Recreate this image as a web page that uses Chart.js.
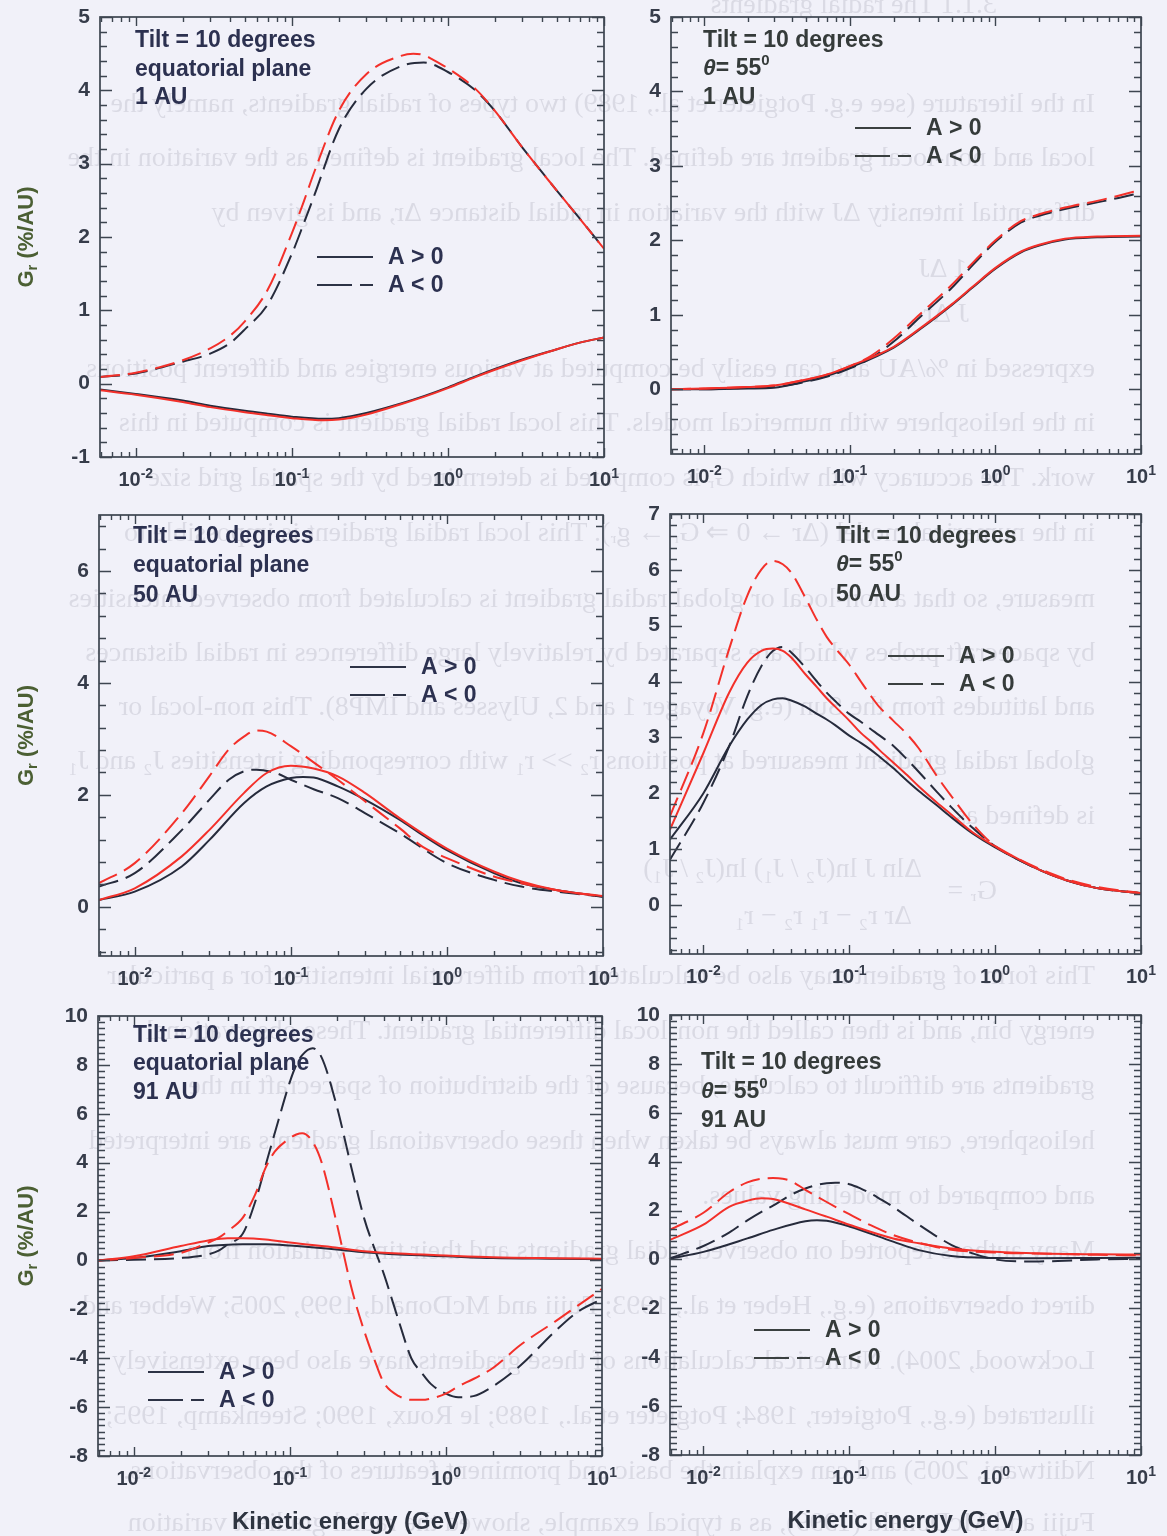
<!DOCTYPE html>
<html>
<head>
<meta charset="utf-8">
<title>Radial gradients vs kinetic energy</title>
<script src="https://cdn.jsdelivr.net/npm/chart.js@4.4.1/dist/chart.umd.min.js"></script>
<style>
  html, body { margin: 0; padding: 0; }
  body { width: 1167px; height: 1536px; position: relative; overflow: hidden; background: #f1f1f9; }
  #ghost { position: absolute; left: 0; top: 0; width: 1167px; height: 1536px; overflow: hidden;
           transform: scaleX(-1); color: rgba(60, 60, 85, 0.12); filter: blur(0.6px);
           font: 28px "Liberation Serif", "Times New Roman", serif; white-space: nowrap; }
  #ghost div { position: absolute; line-height: 34px; }
  canvas { position: absolute; }
</style>
</head>
<body>
<div id="ghost"></div>
<canvas id="p1"></canvas>
<canvas id="p2"></canvas>
<canvas id="p3"></canvas>
<canvas id="p4"></canvas>
<canvas id="p5"></canvas>
<canvas id="p6"></canvas>
<script>
// kinetic energy grid (GeV); null = no reading at that energy
const energy = [0.0059, 0.01, 0.015, 0.02, 0.025, 0.03, 0.035, 0.04, 0.05,
                0.06, 0.07, 0.08, 0.1, 0.11, 0.12, 0.14, 0.16, 0.2,
                0.25, 0.3, 0.35, 0.4, 0.5, 0.6, 0.7, 0.8, 1,
                1.2, 1.5, 2, 3, 5, 7, 10];
const _ = null;

// equatorial plane, 1 AU
const eq1Pos = [-0.08, -0.14, _, -0.23, _, -0.3, _, _, -0.37,
                _, -0.41, _, -0.45, _, _, _, -0.48, -0.47,
                _, -0.4, _, _, -0.27, _, -0.17, _, -0.05,
                _, 0.1, 0.2, 0.33, 0.47, 0.56, 0.63];
const eq1PosAlt = [-0.09, -0.15, _, -0.25, _, -0.32, _, _, -0.39,
                   _, -0.43, _, -0.47, _, _, _, -0.5, -0.49,
                   _, -0.42, _, _, -0.28, _, -0.18, _, -0.06,
                   _, 0.09, 0.19, 0.32, 0.47, 0.56, 0.63];
const eq1Neg = [0.09, 0.14, _, 0.3, _, 0.41, _, 0.55, 0.74,
                _, 1.08, _, 1.77, _, 2.2, 2.58, _, 3.47,
                _, 4.02, _, _, 4.33, _, 4.38, _, 4.25,
                _, 4.0, 3.72, 3.22, 2.63, 2.25, 1.84];
const eq1NegAlt = [0.09, 0.15, _, 0.32, _, 0.48, _, 0.65, 0.85,
                   _, 1.28, _, 2.05, _, 2.5, 2.9, _, 3.72,
                   _, 4.22, _, _, 4.47, 4.5, 4.48, 4.42, 4.3,
                   _, 4.02, 3.72, 3.22, 2.63, 2.25, 1.84];

// theta = 55 deg, 1 AU
const th1Pos = [0, 0, _, 0.01, _, 0.02, _, _, 0.11,
                _, 0.18, _, 0.29, _, _, _, _, 0.56,
                _, 0.8, _, _, 1.13, _, 1.37, _, 1.62,
                _, 1.84, 1.93, 2.01, 2.04, _, 2.05];
const th1PosAlt = [0, 0.01, _, 0.03, _, 0.05, _, _, 0.13,
                   _, 0.2, _, 0.31, _, _, _, _, 0.57,
                   _, 0.81, _, _, 1.14, _, 1.38, _, 1.63,
                   _, 1.85, 1.94, 2.02, 2.05, _, 2.06];
const th1Neg = [0, 0, _, 0.02, _, 0.03, _, _, 0.1,
                _, 0.17, _, 0.28, _, _, 0.42, _, 0.64,
                _, 0.96, _, _, 1.36, _, 1.67, _, 1.98,
                _, 2.24, 2.33, 2.42, 2.51, 2.57, 2.64];
const th1NegAlt = [0, 0.01, _, 0.03, _, 0.05, _, _, 0.13,
                   _, 0.2, _, 0.31, _, _, 0.45, _, 0.68,
                   _, 1.0, _, _, 1.4, _, 1.7, _, 2.0,
                   _, 2.26, 2.35, 2.44, 2.53, 2.6, 2.68];

// equatorial plane, 50 AU
const eq50Pos = [0.12, 0.27, _, 0.72, _, 1.19, _, _, 1.85,
                 _, 2.15, _, 2.3, _, 2.32, 2.31, _, 2.15,
                 _, 1.91, _, _, 1.55, _, 1.28, _, 1.01,
                 _, _, 0.6, 0.42, 0.3, _, 0.18];
const eq50PosAlt = [0.12, 0.33, _, 0.9, _, 1.37, _, _, 2.03,
                    _, 2.39, _, 2.52, _, _, 2.47, _, 2.33,
                    _, 2.03, _, _, 1.58, _, _, _, 1.04,
                    _, _, 0.63, 0.45, 0.3, _, 0.19];
const eq50Neg = [0.36, 0.6, _, 1.37, _, 1.91, _, 2.27, 2.42,
                 2.45, _, 2.39, 2.27, _, _, 2.1, _, 1.94,
                 _, 1.67, _, _, 1.31, _, _, _, 0.78,
                 _, _, 0.48, 0.36, 0.27, _, 0.18];
const eq50NegAlt = [0.42, 0.78, _, 1.67, _, 2.33, _, 2.81, 3.04,
                    3.15, 3.13, _, 2.87, _, _, 2.58, _, 2.27,
                    _, 1.88, _, _, 1.4, _, 1.07, _, 0.87,
                    _, _, 0.54, 0.42, 0.3, _, 0.18];

// theta = 55 deg, 50 AU
const th50Pos = [1.17, 2.0, 2.84, 3.32, 3.58, 3.68, 3.7, 3.66, 3.55,
                 3.42, 3.32, 3.22, 3.03, _, 2.9, 2.78, 2.66, 2.45,
                 2.22, 2.04, _, 1.78, 1.57, _, 1.28, _, 1.03,
                 _, _, 0.63, 0.45, 0.3, _, 0.21];
const th50PosAlt = [1.35, 2.72, 3.8, 4.34, 4.55, 4.59, 4.55, 4.43, 4.13,
                    3.9, 3.7, 3.55, 3.3, _, 3.08, 2.93, 2.78, 2.55,
                    2.32, 2.12, _, 1.83, 1.62, _, 1.3, _, 1.05,
                    _, _, 0.63, 0.45, 0.3, _, 0.21];
const th50Neg = [0.81, 1.83, 2.84, 3.74, 4.28, 4.55, 4.62, 4.52, 4.25,
                 4.0, 3.8, 3.65, 3.42, _, 3.28, 3.15, 3.04, 2.85,
                 2.6, 2.38, _, 2.02, 1.75, _, 1.38, _, 1.05,
                 _, _, 0.63, 0.45, 0.3, _, 0.21];
const th50NegAlt = [1.59, 3.08, 4.58, 5.54, 6.01, 6.16, 6.1, 5.95, 5.5,
                    5.1, 4.8, 4.6, 4.3, _, 4.0, 3.75, 3.55, 3.3,
                    3.05, 2.8, _, 2.3, 1.95, _, 1.45, _, 1.05,
                    _, 0.8, 0.65, 0.47, 0.32, _, 0.21];

// equatorial plane, 91 AU
const eq91Pos = [0, 0.1, _, 0.38, _, 0.59, _, 0.64, 0.66,
                 _, 0.66, _, 0.61, _, _, _, _, 0.45,
                 _, 0.33, _, _, 0.24, _, _, _, 0.17,
                 _, _, 0.1, _, 0.07, _, 0.05];
const eq91PosAlt = [0, 0.17, _, 0.59, _, 0.82, _, 0.91, 0.91,
                    _, 0.86, _, 0.73, _, _, _, _, 0.52,
                    _, 0.38, _, _, 0.28, _, _, _, 0.2,
                    _, _, 0.13, _, 0.09, _, 0.07];
const eq91Neg = [0, 0.03, _, 0.1, _, 0.25, 0.4, 0.66, 1.1,
                 2.4, 3.9, 5.2, 7.3, 8.0, 8.4, 8.68, 8.3, 6.3,
                 3.7, 1.7, 0.45, -0.55, -2.5, -4.0, -4.6, -5.05, -5.45,
                 -5.6, -5.55, -5.15, -4.3, -2.9, -2.1, -1.58];
const eq91NegAlt = [0, 0.1, _, 0.31, _, 0.73, 0.93, 1.2, 1.75,
                    2.7, 3.8, 4.45, 5.0, 5.15, 5.2, 4.85, 4.0, 1.5,
                    -1.2, -2.9, -4.1, -5.0, -5.55, -5.7, -5.7, -5.65, -5.45,
                    -5.15, -4.85, -4.4, -3.46, -2.5, -1.85, -1.16];

// theta = 55 deg, 91 AU
const th91Pos = [0.03, 0.31, _, 0.86, _, 1.21, _, _, 1.56,
                 1.6, 1.58, _, 1.35, _, _, _, _, 0.73,
                 _, 0.38, _, _, 0.14, _, _, _, 0.06,
                 _, _, 0.05, _, 0.06, _, 0.07];
const th91PosAlt = [0.8, 1.42, 2.15, 2.4, 2.5, 2.47, _, _, 2.05,
                    _, 1.75, _, 1.42, _, _, _, _, 0.86,
                    _, 0.66, _, _, 0.45, _, _, _, 0.31,
                    _, _, 0.24, _, 0.21, _, 0.2];
const th91Neg = [0.05, 0.55, 1.1, 1.6, 1.95, 2.2, _, 2.65, 2.9,
                 3.05, 3.12, 3.14, 3.08, _, 2.9, 2.7, 2.5, 2.15,
                 _, 1.42, _, _, 0.6, _, 0.25, _, 0.0,
                 _, -0.08, -0.08, -0.05, 0.0, _, 0.03];
const th91NegAlt = [1.21, 1.91, 2.75, 3.15, 3.3, 3.33, 3.3, 3.2, 2.85,
                    _, 2.35, _, 1.85, _, _, 1.4, _, 1.0,
                    _, 0.68, _, _, 0.4, _, _, _, 0.28,
                    _, _, 0.24, _, 0.19, _, 0.17];

// axis ticks
const decades = [0.01, 0.1, 1, 10];
const decadeExp = ['-2', '-1', '0', '1'];
const yLabels1 = [-1, 0, 1, 2, 3, 4, 5];
const yLabels2 = [0, 1, 2, 3, 4, 5];
const yLabels3 = [0, 2, 4, 6];
const yLabels4 = [0, 1, 2, 3, 4, 5, 6, 7];
const yLabels91 = [-8, -6, -4, -2, 0, 2, 4, 6, 8, 10];

const SANS = '"Liberation Sans", Arial, Helvetica, sans-serif';
const AXIS = '#3d4550';
const TICK_TEXT = '#363c4a';
const DARK = '#262b3c';
const RED = '#f3302a';

function drawRun(ctx, parts, x, y) {
  let cx = x;
  for (const p of parts) {
    ctx.font = p.font;
    ctx.fillText(p.t, cx, y + (p.dy || 0));
    cx += ctx.measureText(p.t).width;
  }
}
function runWidth(ctx, parts) {
  let w = 0;
  for (const p of parts) { ctx.font = p.font; w += ctx.measureText(p.t).width; }
  return w;
}

// frame, inward ticks, labels, notes and legend for one panel
const panelDeco = {
  id: 'panelDeco',
  afterDraw(chart, args, o) {
    const { ctx, chartArea: a } = chart;
    const xs = chart.scales.x, ys = chart.scales.y;
    const ox = o.origin[0], oy = o.origin[1];
    ctx.save();

    ctx.strokeStyle = AXIS;
    ctx.lineWidth = 1.7;
    ctx.strokeRect(a.left, a.top, a.right - a.left, a.bottom - a.top);

    ctx.lineWidth = 1.4;
    ctx.beginPath();
    const k0 = Math.ceil(ys.min / o.yMinor - 1e-6);
    for (let k = k0; k * o.yMinor <= ys.max + 1e-6; k++) {
      const v = k * o.yMinor;
      const major = Math.abs(v / o.yMajor - Math.round(v / o.yMajor)) < 1e-6;
      const len = major ? 12 : 7;
      const py = Math.round(ys.getPixelForValue(v)) + 0.5;
      ctx.moveTo(a.left, py); ctx.lineTo(a.left + len, py);
      ctx.moveTo(a.right, py); ctx.lineTo(a.right - len, py);
    }
    for (let e = -3; e <= 1; e++) {
      for (let k = 1; k <= 9; k++) {
        const v = k * Math.pow(10, e);
        if (v < xs.min * 0.999 || v > xs.max * 1.001) continue;
        const len = k === 1 ? 9 : 5;
        const px = Math.round(xs.getPixelForValue(v)) + 0.5;
        ctx.moveTo(px, a.bottom); ctx.lineTo(px, a.bottom - len);
        ctx.moveTo(px, a.top); ctx.lineTo(px, a.top + len);
      }
    }
    ctx.stroke();

    // y tick labels
    ctx.fillStyle = TICK_TEXT;
    ctx.font = 'bold 21px ' + SANS;
    ctx.textAlign = 'right';
    ctx.textBaseline = 'middle';
    o.yLabels.forEach(v => ctx.fillText(String(v), a.left - 10, ys.getPixelForValue(v)));

    // x tick labels 10^n
    ctx.textAlign = 'left';
    ctx.textBaseline = 'alphabetic';
    decades.forEach((v, i) => {
      const parts = [
        { t: '10', font: 'bold 20px ' + SANS },
        { t: decadeExp[i], font: 'bold 14px ' + SANS, dy: -8 }
      ];
      const w = runWidth(ctx, parts);
      drawRun(ctx, parts, xs.getPixelForValue(v) - w / 2, a.bottom + 29);
    });

    // panel notes
    ctx.fillStyle = o.noteColor;
    const nf = 'bold 23px ' + SANS;
    o.notes.forEach((line, i) => {
      const px = o.noteX - ox, py = o.noteY[i] - oy + 8;
      if (line === 'theta') {
        drawRun(ctx, [
          { t: '\u03B8', font: 'italic bold 23px ' + SANS },
          { t: '= 55', font: nf },
          { t: '0', font: 'bold 15px ' + SANS, dy: -10 }
        ], px, py);
      } else {
        ctx.font = nf;
        ctx.fillText(line, px, py);
      }
    });

    // legend
    const lx = o.legend[0] - ox, ly1 = o.legend[1] - oy, ly2 = ly1 + 28;
    ctx.strokeStyle = o.legendLine;
    ctx.lineWidth = 2;
    ctx.beginPath();
    ctx.moveTo(lx, ly1); ctx.lineTo(lx + 56, ly1);
    ctx.moveTo(lx, ly2); ctx.lineTo(lx + 35, ly2);
    ctx.moveTo(lx + 43, ly2); ctx.lineTo(lx + 56, ly2);
    ctx.stroke();
    ctx.fillStyle = o.noteColor;
    ctx.font = 'bold 23px ' + SANS;
    ctx.textBaseline = 'middle';
    ctx.fillText('A > 0', lx + 71, ly1 + 1);
    ctx.fillText('A < 0', lx + 71, ly2 + 1);

    // axis titles
    if (o.yTitle) {
      ctx.save();
      ctx.translate(27, (a.top + a.bottom) / 2);
      ctx.rotate(-Math.PI / 2);
      ctx.fillStyle = '#4b5f33';
      ctx.textBaseline = 'middle';
      const parts = [
        { t: 'G', font: 'bold 22px ' + SANS },
        { t: 'r', font: 'bold 15px ' + SANS, dy: 6 },
        { t: ' (%/AU)', font: 'bold 22px ' + SANS }
      ];
      drawRun(ctx, parts, -runWidth(ctx, parts) / 2, 0);
      ctx.restore();
    }
    if (o.xTitle) {
      ctx.fillStyle = '#2e3440';
      ctx.font = 'bold 24px ' + SANS;
      ctx.textAlign = 'center';
      ctx.textBaseline = 'middle';
      ctx.fillText('Kinetic energy (GeV)', (a.left + a.right) / 2, a.bottom + 66);
    }
    ctx.restore();
  }
};

const panels = [
  { id: 'p1', canvas: [0, 0, 634, 502], box: [100, 17, 604, 457], y: [-1, 5],
    yMajor: 1, yMinor: 0.2, yLabels: yLabels1,
    curves: [eq1PosAlt, eq1NegAlt, eq1Pos, eq1Neg],
    notes: ['Tilt = 10 degrees', 'equatorial plane', '1 AU'], noteX: 135, noteY: [39, 68, 96],
    legend: [317, 257], yTitle: true, xTitle: false, left: true },
  { id: 'p2', canvas: [605, 0, 562, 502], box: [671, 17, 1141, 454], y: [-0.87, 5],
    yMajor: 1, yMinor: 0.2, yLabels: yLabels2,
    curves: [th1PosAlt, th1NegAlt, th1Pos, th1Neg],
    notes: ['Tilt = 10 degrees', 'theta', '1 AU'], noteX: 703, noteY: [39, 67, 96],
    legend: [855, 128], yTitle: false, xTitle: false, left: false },
  { id: 'p3', canvas: [0, 498, 634, 502], box: [99, 515, 603, 956], y: [-0.88, 7],
    yMajor: 2, yMinor: 0.4, yLabels: yLabels3,
    curves: [eq50PosAlt, eq50NegAlt, eq50Pos, eq50Neg],
    notes: ['Tilt = 10 degrees', 'equatorial plane', '50 AU'], noteX: 133, noteY: [535, 564, 594],
    legend: [350, 667], yTitle: true, xTitle: false, left: true },
  { id: 'p4', canvas: [605, 498, 562, 502], box: [670, 514, 1141, 954], y: [-0.88, 7],
    yMajor: 1, yMinor: 0.2, yLabels: yLabels4,
    curves: [th50PosAlt, th50NegAlt, th50Pos, th50Neg],
    notes: ['Tilt = 10 degrees', 'theta', '50 AU'], noteX: 836, noteY: [535, 563, 593],
    legend: [888, 656], yTitle: false, xTitle: false, left: false },
  { id: 'p5', canvas: [0, 998, 634, 538], box: [98, 1016, 602, 1456], y: [-8, 10],
    yMajor: 2, yMinor: 0.25, yLabels: yLabels91,
    curves: [eq91PosAlt, eq91NegAlt, eq91Pos, eq91Neg],
    notes: ['Tilt = 10 degrees', 'equatorial plane', '91 AU'], noteX: 133, noteY: [1034, 1062, 1091],
    legend: [148, 1372], yTitle: true, xTitle: true, left: true },
  { id: 'p6', canvas: [605, 998, 562, 538], box: [670, 1015, 1141, 1455], y: [-8, 10],
    yMajor: 2, yMinor: 0.25, yLabels: yLabels91,
    curves: [th91PosAlt, th91NegAlt, th91Pos, th91Neg],
    notes: ['Tilt = 10 degrees', 'theta', '91 AU'], noteX: 701, noteY: [1061, 1090, 1119],
    legend: [754, 1330], yTitle: false, xTitle: true, left: false }
];

function series(values, color, dashed) {
  return {
    data: energy.map((e, i) => ({ x: e, y: values[i] })),
    borderColor: color,
    borderWidth: 2,
    borderDash: dashed ? [20, 8] : [],
    pointRadius: 0,
    fill: false,
    cubicInterpolationMode: 'monotone'
  };
}

panels.forEach(p => {
  const el = document.getElementById(p.id);
  const [cx, cy, cw, ch] = p.canvas;
  el.style.left = cx + 'px';
  el.style.top = cy + 'px';
  el.width = cw;
  el.height = ch;
  const [bl, bt, br, bb] = p.box;
  const [altPos, altNeg, pos, neg] = p.curves;

  new Chart(el.getContext('2d'), {
    type: 'line',
    data: {
      datasets: [
        series(altPos, RED, false),
        series(altNeg, RED, true),
        series(pos, DARK, false),
        series(neg, DARK, true)
      ]
    },
    options: {
      responsive: false,
      animation: false,
      devicePixelRatio: 1,
      spanGaps: true,
      layout: { padding: { left: bl - cx, top: bt - cy, right: cx + cw - br, bottom: cy + ch - bb } },
      scales: {
        x: { type: 'logarithmic', min: 0.0059, max: 10, display: false },
        y: { type: 'linear', min: p.y[0], max: p.y[1], display: false }
      },
      plugins: {
        legend: { display: false },
        tooltip: { enabled: false },
        panelDeco: {
          origin: [cx, cy],
          yMajor: p.yMajor, yMinor: p.yMinor, yLabels: p.yLabels,
          notes: p.notes, noteX: p.noteX, noteY: p.noteY,
          noteColor: p.left ? '#2c3150' : '#353b3a',
          legend: p.legend, legendLine: p.left ? '#2d3346' : '#3a4040',
          yTitle: p.yTitle, xTitle: p.xTitle
        }
      }
    },
    plugins: [panelDeco]
  });
});

// faint mirrored page text showing through the sheet
const ghostLines = [
  [4, 170, '3.1.1 The radial gradients'],
  [103, 72, 'In the literature (see e.g. Potgieter et al., 1989) two types of radial gradients, namely the'],
  [157, 72, 'local and non-local gradient are defined. The local gradient is defined as the variation in the'],
  [212, 72, 'differential intensity \u0394J with the variation in radial distance \u0394r, and is given by'],
  [268, 200, '1 \u0394J'],
  [313, 198, 'J \u0394r ,'],
  [368, 72, 'expressed in %/AU and can easily be computed at various energies and different positions'],
  [422, 72, 'in the heliosphere with numerical models. This local radial gradient is computed in this'],
  [477, 72, 'work. The accuracy with which G\u1D63 is computed is determined by the spatial grid size'],
  [532, 72, 'in the numerical model (\u0394r \u2192 0 \u21D2 G\u1D63 \u2192 g\u1D63). This local radial gradient is impossible to'],
  [598, 72, 'measure, so that a non-local or global radial gradient is calculated from observed intensities'],
  [652, 72, 'by spacecraft probes which are separated by relatively large differences in radial distances'],
  [706, 72, 'and latitudes from the Sun (e.g. Voyager 1 and 2, Ulysses and IMP8). This non-local or'],
  [760, 72, 'global radial gradient measured at positions r\u2082 >> r\u2081 with corresponding intensities J\u2082 and J\u2081'],
  [815, 72, 'is defined as'],
  [868, 245, '\u0394ln J        ln(J\u2082 / J\u2081)        ln(J\u2082 / J\u2081)'],
  [890, 170, 'G\u1D63 ='],
  [915, 255, '\u0394r            r\u2082 \u2212 r\u2081            r\u2082 \u2212 r\u2081'],
  [975, 72, 'This form of gradient may also be calculated from differential intensities for a particular'],
  [1030, 72, 'energy bin, and is then called the non-local differential gradient. These observational'],
  [1085, 72, 'gradients are difficult to calculate, because of the distribution of spacecraft in the'],
  [1140, 72, 'heliosphere, care must always be taken when these observational gradients are interpreted'],
  [1195, 72, 'and compared to modelling values.'],
  [1250, 72, 'Many authors reported on observed radial gradients and their time variation from'],
  [1305, 72, 'direct observations (e.g., Heber et al., 1993; Fujii and McDonald, 1999, 2005; Webber and'],
  [1360, 72, 'Lockwood, 2004). Numerical calculations of these gradients have also been extensively'],
  [1415, 72, 'illustrated (e.g., Potgieter, 1984; Potgieter et al., 1989; le Roux, 1990; Steenkamp, 1995;'],
  [1470, 72, 'Ndiitwani, 2005) and can explain the basic and prominent features of the observations.'],
  [1522, 72, 'Fujii and McDonald (1999), as a typical example, showed the radial gradient variation']
];
const ghost = document.getElementById('ghost');
ghostLines.forEach(([y, x, t]) => {
  const d = document.createElement('div');
  d.style.top = (y - 17) + 'px';
  d.style.left = x + 'px';
  d.textContent = t;
  ghost.appendChild(d);
});
</script>
</body>
</html>
